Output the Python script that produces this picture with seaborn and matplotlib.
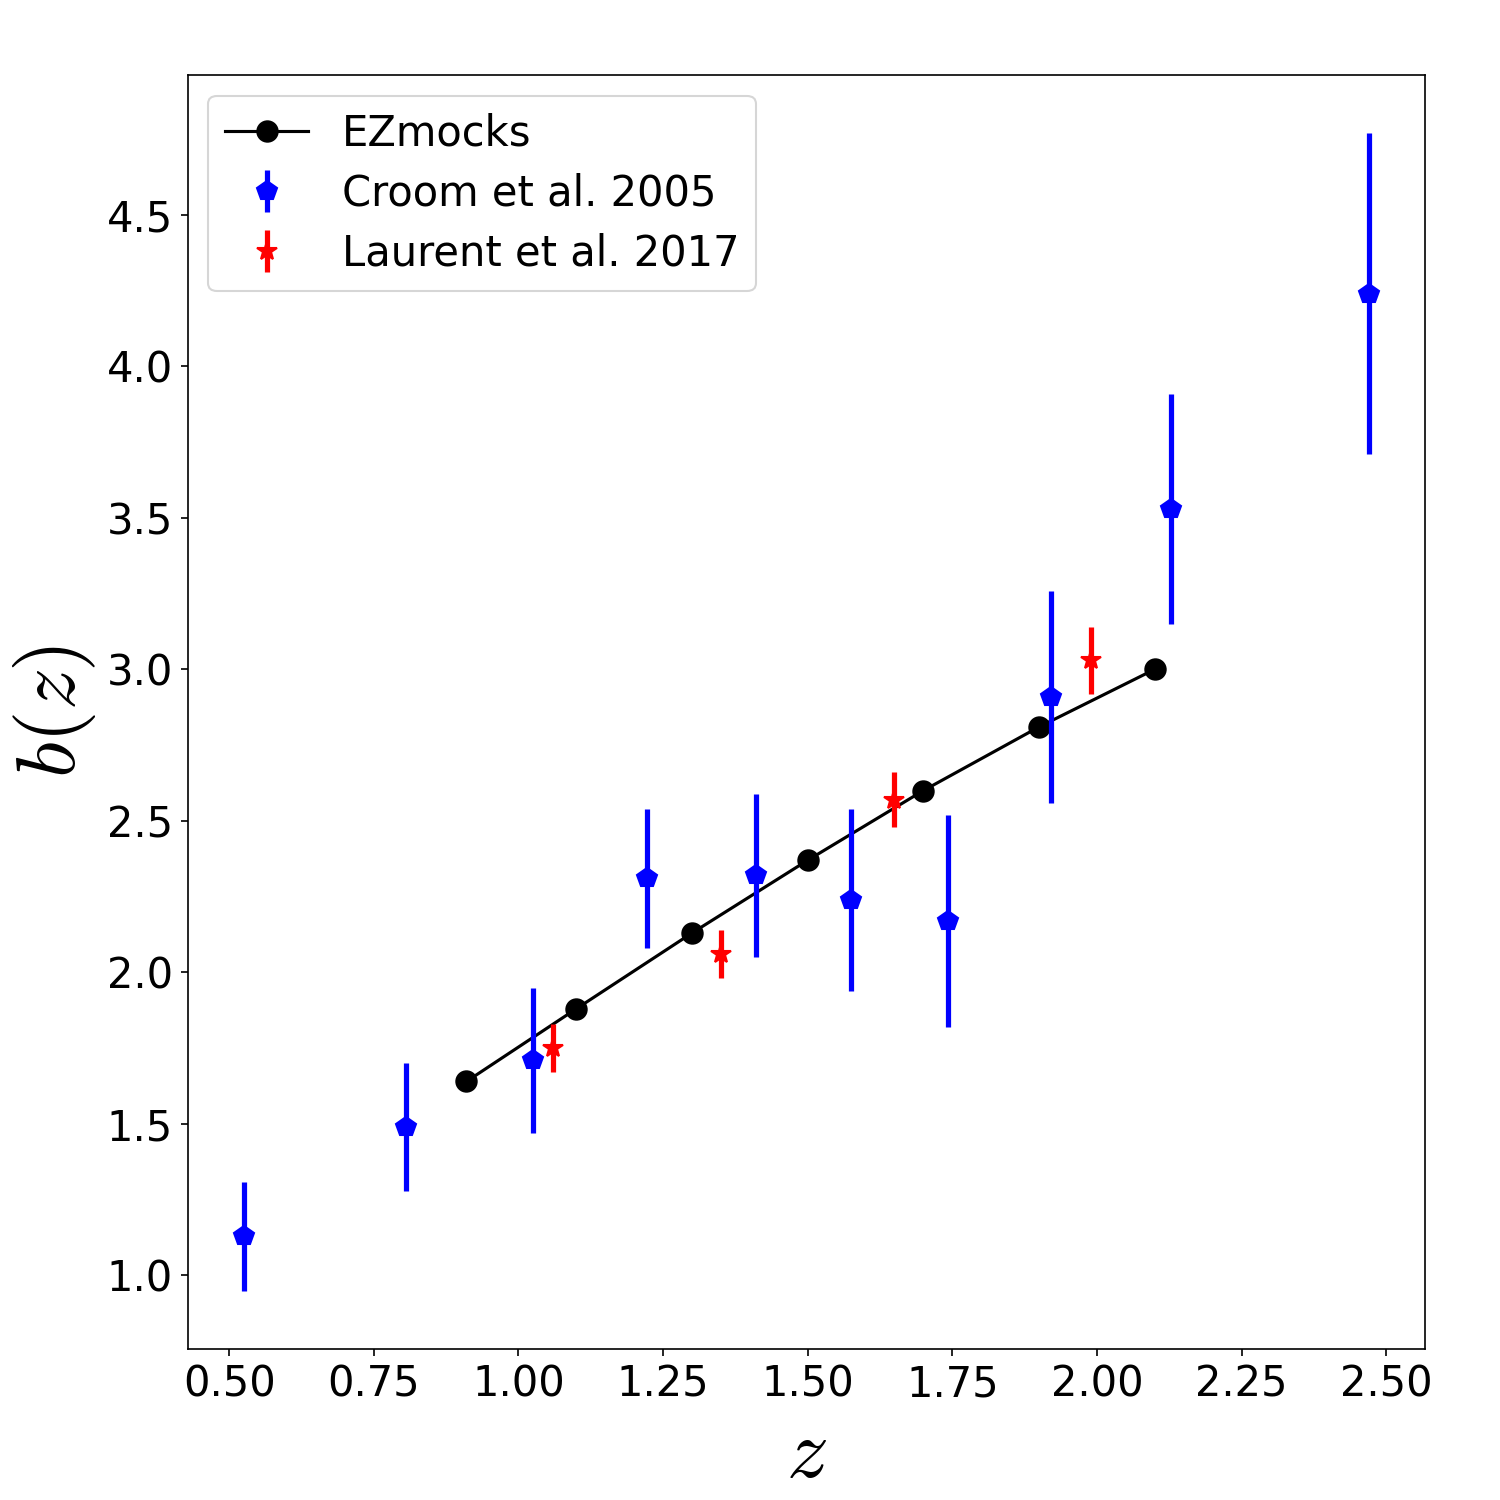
import numpy as np
import pandas as pd
import matplotlib
matplotlib.use('Agg')
import matplotlib.pyplot as plt
import seaborn as sns

# EZmocks bias
ez_z = [0.91, 1.10, 1.30, 1.50, 1.70, 1.90, 2.10]
ez_b = [1.64, 1.88, 2.13, 2.37, 2.60, 2.81, 3.00]

# Croom et al. 2005
croom_z = [0.525, 0.805, 1.025, 1.222, 1.41, 1.575, 1.743, 1.92, 2.128, 2.47]
croom_b = [1.13, 1.49, 1.71, 2.31, 2.32, 2.24, 2.17, 2.91, 3.53, 4.24]
croom_err = [0.18, 0.21, 0.24, 0.23, 0.27, 0.30, 0.35, 0.35, 0.38, 0.53]

# Laurent et al. 2017
laurent_z = [1.06, 1.35, 1.65, 1.99]
laurent_b = [1.75, 2.06, 2.57, 3.03]
laurent_err = [0.08, 0.08, 0.09, 0.11]

plt.rcParams['mathtext.fontset'] = 'cm'

fig, ax = plt.subplots(figsize=(10, 10), dpi=150)
fig.subplots_adjust(left=0.125, right=0.95, top=0.95, bottom=0.101)

df_ez = pd.DataFrame({'z': ez_z, 'b': ez_b})
sns.lineplot(data=df_ez, x='z', y='b', ax=ax, color='black', marker='o',
             markersize=10, linewidth=1.5, markeredgecolor='black', label='EZmocks')

ax.errorbar(croom_z, croom_b, yerr=croom_err, fmt='p', color='blue',
            markersize=10, elinewidth=2.5, capsize=0, label='Croom et al. 2005')
ax.errorbar(laurent_z, laurent_b, yerr=laurent_err, fmt='*', color='red',
            markersize=10, elinewidth=2.5, capsize=0, label='Laurent et al. 2017')

ax.set_xticks(np.arange(0.5, 2.51, 0.25))
ax.set_yticks(np.arange(1.0, 4.51, 0.5))
ax.tick_params(labelsize=20)
ax.set_xlabel(r'$z$', fontsize=40)
ax.set_ylabel(r'$b(z)$', fontsize=40)
ax.legend(loc='upper left', fontsize=20, labelspacing=0.43)

fig.savefig('out.png', dpi=150)
